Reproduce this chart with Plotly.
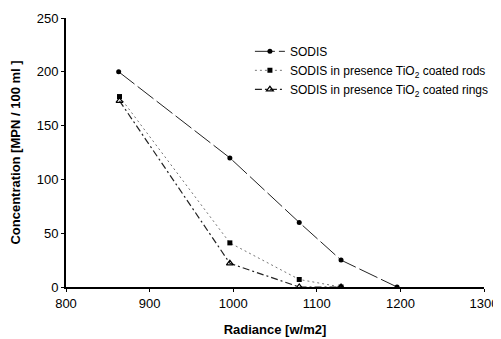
import plotly.graph_objects as go

radiance_sodis = [863, 996, 1079, 1129, 1196]
conc_sodis = [200, 120, 60, 25, 0]

radiance_rods = [864, 996, 1079, 1129]
conc_rods = [177, 41, 7, 0]

radiance_rings = [864, 996, 1079, 1129]
conc_rings = [173, 22, 0, 0]

x_ticks = [800, 900, 1000, 1100, 1200, 1300]
y_ticks = [0, 50, 100, 150, 200, 250]

fig = go.Figure()
fig.add_trace(go.Scatter(
    x=radiance_sodis, y=conc_sodis, mode="lines+markers", name="SODIS",
    line=dict(color="#222", width=1, dash="20px,4px"),
    marker=dict(symbol="circle", size=5, color="black")))
fig.add_trace(go.Scatter(
    x=radiance_rods, y=conc_rods, mode="lines+markers",
    name="SODIS in presence TiO<sub>2</sub> coated rods",
    line=dict(color="#777", width=1, dash="2px,3px"),
    marker=dict(symbol="square", size=5, color="black")))
fig.add_trace(go.Scatter(
    x=radiance_rings, y=conc_rings, mode="lines+markers",
    name="SODIS in presence TiO<sub>2</sub> coated rings",
    line=dict(color="#222", width=1.2, dash="7px,3px,2px,3px"),
    marker=dict(symbol="triangle-up-open", size=6, color="black", line=dict(width=1.2))))

# the page body has an 8px default margin, so margins are offset by 8px
fig.update_layout(
    width=501, height=339,
    margin=dict(l=58, r=25, t=10, b=60),
    paper_bgcolor="white", plot_bgcolor="white",
    font=dict(family="Liberation Sans, Arial", size=13, color="black"),
    showlegend=True,
    legend=dict(x=0.44, y=0.93, xanchor="left", yanchor="top",
                bgcolor="rgba(0,0,0,0)", font=dict(size=12),
                tracegroupgap=0, itemwidth=30),
    xaxis=dict(range=[800, 1300], tickvals=x_ticks, showgrid=False, zeroline=False,
               showline=True, linecolor="black", linewidth=2, automargin=False,
               ticks="outside", ticklen=3, tickcolor="black", tickwidth=1,
               title=dict(text="<b>Radiance [w/m2]</b>", font=dict(size=13))),
    yaxis=dict(range=[0, 250], tickvals=y_ticks, showgrid=False, zeroline=False,
               showline=True, linecolor="black", linewidth=2, automargin=False,
               ticks="outside", ticklen=3, tickcolor="black", tickwidth=1,
               title=dict(text="<b>Concentration [MPN / 100 ml ]</b>", font=dict(size=13))),
)

fig.write_html("out.html", config={"displayModeBar": False})
